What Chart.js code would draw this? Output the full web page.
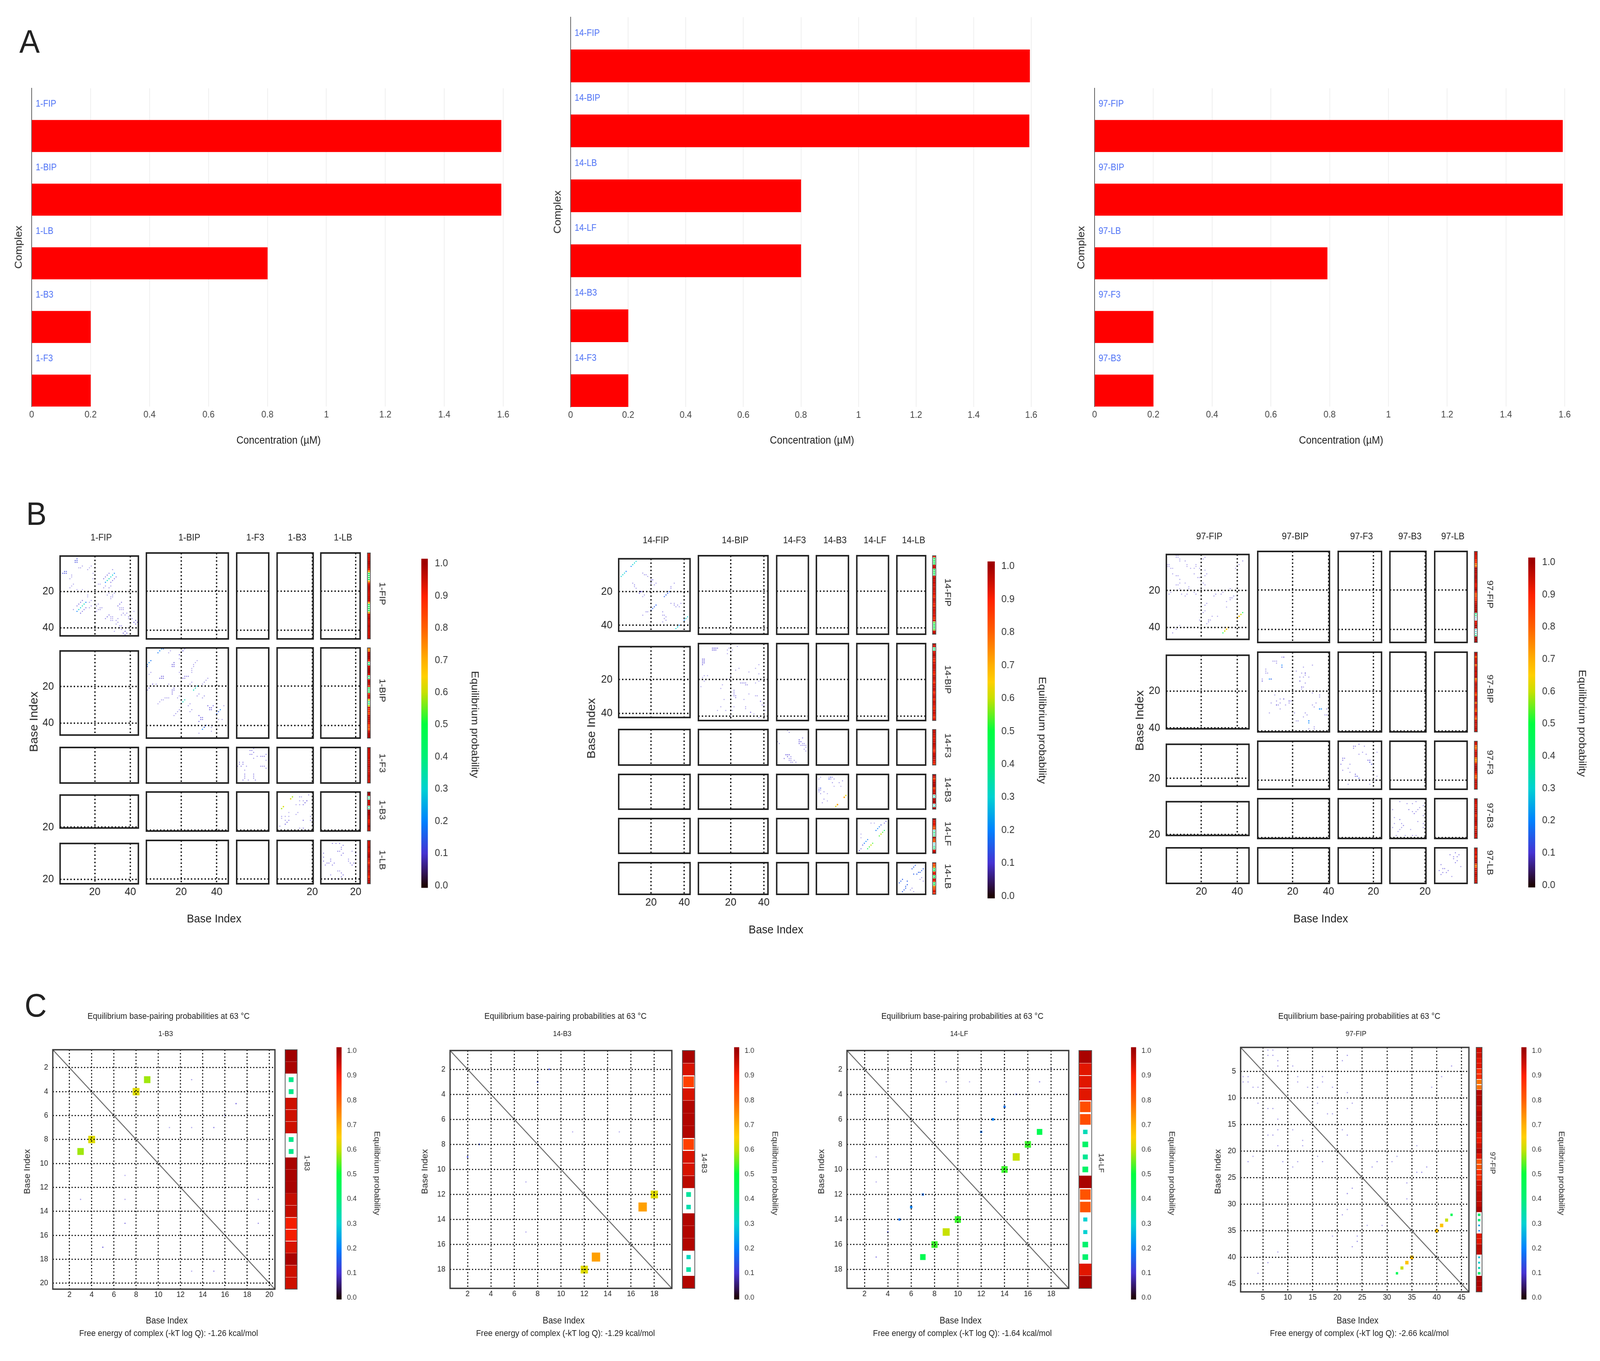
<!DOCTYPE html>
<html>
<head>
<meta charset="utf-8">
<title>Primer concentrations and base-pairing probabilities</title>
<script src="https://cdn.jsdelivr.net/npm/chart.js@4"></script>
<style>
html, body { margin: 0; background: #fff; overflow: hidden; }
#page { position: absolute; left: 0; top: 0; width: 4394px; height: 3485px; overflow: hidden; background: #fff; transform-origin: 0 0; }
#page canvas { position: absolute; filter: blur(0.6px); }
.txt { position: absolute; white-space: nowrap; font-family: "Liberation Sans", Arial, sans-serif; color: #222; transform: translate(-50%, -50%); filter: blur(0.6px); }
</style>
</head>
<body>
<div id="page"></div>
<script>
// panel A: concentrations
const conc_ticks = [0, 0.2, 0.4, 0.6, 0.8, 1, 1.2, 1.4, 1.6]
const conc_names_1 = ['1-FIP', '1-BIP', '1-LB', '1-B3', '1-F3']
const conc_values_1 = [1.593, 1.593, 0.8, 0.2, 0.2]
const conc_names_14 = ['14-FIP', '14-BIP', '14-LB', '14-LF', '14-B3', '14-F3']
const conc_values_14 = [1.595, 1.593, 0.8, 0.8, 0.2, 0.2]
const conc_names_97 = ['97-FIP', '97-BIP', '97-LB', '97-F3', '97-B3']
const conc_values_97 = [1.593, 1.593, 0.792, 0.2, 0.2]

// colour scale of the probability plots
const cbar_ticks = [0, 0.1, 0.2, 0.3, 0.4, 0.5, 0.6, 0.7, 0.8, 0.9, 1]
const cbar_range = [-0.007, 1.015]
const cmap_pos = [0, 0.04, 0.1, 0.2, 0.3, 0.4, 0.5, 0.6, 0.65, 0.7, 0.8, 0.9, 0.95, 1]
const cmap_rgb = [[30, 5, 5], [50, 20, 90], [70, 50, 210], [0, 130, 255], [0, 210, 210], [0, 240, 120], [0, 255, 64],
    [200, 225, 0], [255, 208, 0], [255, 176, 0], [255, 96, 0], [255, 32, 0], [205, 16, 0], [160, 0, 0]]

// base pairs [column, row, probability], upper triangle only, the plots are symmetric
const pairs_1_FIP = [[10,2,.12],[9,3,.12],[10,3,.12],[9,4,.12],[10,4,.12],[11,7,.04],[12,7,.04],[13,6,.04],[16,8,.04],[17,7,.04],[18,6,.04],
    [19,10,.04],[19,13,.04],[22,16,.04],[23,16,.04],[26,15,.2],[27,14,.33],[28,13,.33],[29,12,.3],[30,11,.3],[31,10,.2],
    [25,13,.08],[26,12,.08],[27,11,.08],[28,10,.08],[29,15,.08],[30,14,.08],[31,13,.08],[32,12,.08],[30,8,.05],[25,18,.05],[26,17,.05],
    [28,18,.05],[29,17,.05],[28,21,.05],[27,22,.05],[31,21,.05],[30,22,.05],[29,23,.05],[30,23,.05],[29,24,.05],[33,28,.08],[34,27,.08],[35,26,.08],
    [34,29,.04],[35,29,.04],[36,29,.04],[34,30,.04],[35,30,.04],[36,30,.04],[36,32,.05],[38,32,.05],[37,33,.05],[39,34,.05],[39,35,.05],
    [42,31,.04],[42,37,.1],[43,36,.1],[43,38,.1],[44,37,.1],[40,34,.05],[41,35,.05],[35,33,.05]]
const pairs_1_BIP = [[7,3,.18],[8,2,.2],[9,1,.2],[10,1,.15],[13,3,.04],[14,2,.04],[15,9,.1],[16,8,.1],[16,9,.1],[15,10,.1],[16,10,.1],
    [19,4,.04],[19,6,.04],[21,2,.04],[22,1,.04],[29,7,.04],[28,8,.04],[27,9,.04],[27,10,.04],[26,11,.04],[26,12,.04],[26,13,.04],[19,13,.04],
    [21,16,.08],[22,16,.08],[22,15,.08],[23,15,.08],[24,15,.08],[35,16,.05],[34,17,.05],[33,18,.05],[32,19,.05],[26,18,.05],[25,19,.05],
    [30,24,.05],[29,25,.05],[33,25,.05],[32,26,.05],[27,22,.33],[28,21,.33],[29,20,.3],[35,30,.1],[36,31,.1],[37,31,.1],[38,30,.1],[36,32,.1],[37,32,.1],
    [40,34,.15],[41,33,.15],[42,32,.2],[44,30,.04],[41,37,.04],[43,37,.04],[22,1,.04],[21,2,.04],[19,4,.04]]
const pairs_1_F3 = [[8,2,.07],[9,2,.07],[10,1,.07],[8,4,.07],[9,4,.07],[10,3,.07],[10,6,.05],[12,5,.05],[14,5,.07],[15,5,.07],[16,5,.07],
    [17,4,.07],[17,7,.05],[14,10,.07],[15,10,.07],[16,10,.07],[17,11,.07]]
const pairs_1_B3 = [[9,3,.58],[8,4,.62],[13,3,.05],[17,5,.1],[16,6,.1],[11,7,.03],[13,7,.04],[15,7,.08],[19,13,.04],[19,15,.06]]
const pairs_1_B3_faint = [[14,3,.04],[15,5,.05],[13,5,.04],[18,2,.05],[12,11,.04],[15,15,.04],[20,14,.03],[20,15,.03],[20,16,.03],[20,17,.03]]
const pairs_1_LB = [[7,2,.07],[9,2,.07],[11,2,.07],[13,3,.07],[12,4,.07],[12,5,.07],[10,6,.07],[11,6,.07],[13,7,.07],[12,8,.07],[18,6,.05],
    [20,3,.05],[20,7,.05],[20,10,.05],[16,10,.05],[16,11,.05],[17,12,.07],[18,13,.08],[19,12,.08]]
const pairs_14_FIP = [[11,2,.3],[10,3,.3],[9,4,.3],[8,5,.2],[15,9,.05],[17,10,.05],[16,10,.05],[18,11,.05],[20,13,.1],[21,13,.1],[20,14,.1],[23,15,.05],[22,16,.05],
    [15,20,.08],[14,20,.08],[34,15,.05],[32,17,.05],[36,20,.04],[28,23,.15],[29,22,.15],[30,21,.15],[31,20,.15],[34,27,.05],[35,29,.05],[38,27,.05],[37,29,.05],
    [32,18,.05],[32,27,.05],[34,28,.05],[36,28,.05],[42,35,.3],[41,36,.3],[40,37,.2]]
const pairs_14_BIP = [[9,3,.1],[10,3,.1],[11,3,.1],[12,3,.1],[9,4,.1],[10,4,.1],[11,4,.1],[18,4,.04],[19,3,.04],[18,6,.04],[21,4,.04],[24,2,.04],
    [37,12,.04],[35,14,.04],[31,16,.04],[25,14,.04],[23,15,.04],[20,18,.04],[26,22,.06],[28,22,.06],[29,22,.06],[30,23,.06],[37,21,.04],[35,22,.04],
    [40,20,.04],[37,17,.04],[38,32,.04],[40,34,.04],[31,28,.04],[36,29,.04],[29,35,.04],[32,38,.04],[34,39,.04],[37,41,.04],[27,22,.06],[29,23,.06]]
const pairs_14_F3 = [[7,1,.05],[8,2,.05],[14,6,.1],[14,7,.1],[14,8,.1],[15,7,.1],[16,5,.07],[17,8,.05],[18,10,.05],[18,12,.05],[17,11,.05],[16,8,.05],[15,9,.05],[16,9,.05],[17,9,.05],[18,9,.05]]
const pairs_14_B3 = [[9,2,.12],[8,3,.13],[11,7,.03],[15,7,.03],[18,12,.62],[17,13,.72]]
const pairs_14_B3_faint = [[8,2,.05],[10,2,.05],[9,3,.05],[10,5,.05],[14,5,.05],[16,4,.05],[11,3,.05],[3,2,.04]]
const pairs_14_LF = [[18,2,.1],[9,3,.03],[11,3,.03],[17,3,.08],[15,4,.12],[14,5,.18],[13,6,.2],[12,7,.18],[17,7,.47],[16,8,.53],[15,9,.6],[14,10,.53]]
const pairs_14_LB = [[12,2,.15],[11,3,.15],[10,4,.15],[17,4,.15],[16,5,.15],[15,6,.15],[14,6,.15],[13,7,.15],[11,7,.15],[16,9,.05],[17,11,.05],[15,10,.05]]
const pairs_97_FIP = [[6,1,.04],[7,1,.04],[6,2,.04],[7,2,.04],[8,3,.04],[8,4,.04],[11,4,.04],[12,6,.04],[12,7,.04],[14,8,.04],[16,8,.04],[16,11,.04],
    [17,6,.04],[17,7,.04],[18,13,.04],[19,13,.04],[19,8,.04],[21,3,.04],[22,2,.05],[22,9,.04],[22,12,.04],[23,11,.04],[21,16,.04],[22,17,.05],[28,22,.06],[27,23,.05],
    [32,21,.04],[31,22,.04],[34,26,.04],[34,29,.04],[36,19,.04],[36,24,.05],[37,24,.06],[38,23,.05],[36,25,.04],[39,8,.04],[41,6,.05],[43,4,.05],
    [43,32,.46],[42,33,.6],[41,34,.67],[40,35,.68]]
const pairs_97_BIP = [[5,9,.05],[6,11,.05],[3,15,.1],[7,14,.2],[8,14,.15],[10,5,.05],[11,5,.05],[14,3,.05],[25,11,.05],[27,11,.05],[26,13,.05],[31,7,.05],
    [24,15,.1],[25,18,.1],[29,13,.05],[27,12,.05],[35,23,.05],[33,26,.05],[32,28,.05],[35,29,.2],[36,29,.2],[39,29,.05],[39,32,.05],[29,35,.2],[31,21,.05],[31,27,.05],
    [35,22,.05],[38,32,.05],[26,18,.05],[25,19,.05],[27,16,.05],[24,13,.05],[22,10,.05],[26,8,.05],[27,11,.05]]
const pairs_97_F3 = [[9,3,.08],[10,3,.08],[12,2,.08],[9,4,.08],[14,6,.05],[12,7,.05],[15,3,.05],[16,7,.05],[17,10,.1],[18,11,.12],[19,12,.12],[22,6,.04],[22,18,.04],[21,20,.04],[18,10,.1],[20,15,.04]]
const pairs_97_B3 = [[6,2,.05],[10,3,.05],[15,2,.05],[19,4,.05],[11,6,.08],[14,8,.08],[19,9,.05],[19,13,.05],[19,15,.05],[13,3,.05],[16,6,.05],[17,5,.05],[13,7,.05],[15,7,.05],[16,12,.05]]
const pairs_97_LB = [[9,4,.07],[11,5,.07],[12,3,.07],[13,7,.07],[12,8,.07],[14,4,.07],[15,10,.05],[13,5,.07],[11,6,.07]]

// unpaired probability per base, drawn in the strip beside each plot
const strip_1_FIP = [.94,.94,.95,.95,.97,.97,.95,.94,.88,.7,.5,.5,.5,.5,.7,.88,.95,.97,.97,.95,.94,.94,.95,.95,.94,.7,.5,.5,.5,.5,.7,.94,.95,.97,.95,.94,.95,.97,.95,.95,.94,.94,.95,.95]
const strip_1_BIP = [.75,.75,.97,.97,.98,.97,.88,.45,.45,.94,.97,.98,.98,.94,.45,.45,.94,.97,.97,.88,.5,.45,.5,.88,.95,.94,.6,.45,.45,.6,.92,.88,.88,.82,.94,.95,.95,.94,.92,.82,.85,.8,.94,.97,.98,.98]
const strip_1_F3 = [.97,.95,.95,.94,.94,.95,.95,.94,.95,.97,.95,.95,.94,.95,.97,.95,.95,.94]
const strip_1_B3 = [1,.99,.38,.38,.95,.95,.95,.38,.38,.99,.99,.99,.96,.96,.91,.91,.94,.99,.95,.95]
const strip_1_LB = [.95,.94,.95,.97,.94,.92,.95,.97,.98,.94,.92,.88,.95,.97,.95,.97,.95,.94,.88,.95,.97,.97]
const strip_14_FIP = [.88,.5,.5,.5,.5,.94,.95,.5,.5,.5,.45,.94,.97,.95,.97,.94,.95,.94,.95,.94,.94,.92,.88,.94,.95,.94,.92,.88,.95,.94,.94,.95,.94,.92,.88,.94,.55,.5,.5,.5,.55,.94,.97]
const strip_14_BIP = [.97,.94,.45,.45,.94,.95,.97,.94,.92,.88,.95,.95,.94,.95,.95,.92,.88,.94,.95,.94,.92,.88,.94,.94,.95,.95,.88,.92,.94,.94,.88,.95,.95,.94,.92,.88,.95,.95,.94,.92,.88,.94]
const strip_14_F3 = [.95,.97,.95,.94,.92,.94,.95,.97,.95,.94,.92,.88,.94,.95,.97,.95,.94,.92,.88]
const strip_14_B3 = [.99,.94,.85,.94,.98,.98,.98,.85,.94,.94,.97,.36,.34,.98,.98,.98,.32,.35,.98]
const strip_14_LF = [.99,.93,.93,.93,.83,.83,.33,.43,.37,.43,.99,.82,.82,.3,.3,.42,.42,.93,.99]
const strip_14_LB = [.88,.82,.75,.5,.5,.88,.94,.5,.5,.94,.88,.5,.5,.75,.82,.88,.94,.88]
const strip_97_FIP = [.95,.95,.93,.93,.88,.88,.78,.78,.98,.98,.98,.96,.98,.98,.96,.96,.92,.92,.95,.98,.93,.82,.82,.88,.88,.95,.95,.97,.97,.97,.99,.42,.4,.25,.2,.93,.93,.97,.97,.28,.3,.33,.42,.99,.99,.98]
const strip_97_BIP = [.97,.95,.82,.94,.95,.97,.8,.94,.95,.97,.94,.95,.97,.78,.88,.95,.97,.95,.94,.95,.88,.82,.94,.95,.97,.8,.95,.94,.88,.8,.94,.95,.88,.8,.95,.97,.94,.95,.97,.95]
const strip_97_F3 = [.95,.94,.8,.78,.92,.95,.95,.94,.78,.75,.8,.94,.97,.98,.97,.94,.88,.8,.82,.95,.97,.95,.94,.95]
const strip_97_B3 = [.97,.95,.94,.92,.94,.95,.97,.95,.88,.94,.95,.97,.95,.94,.88,.94,.95,.97,.94,.95]
const strip_97_LB = [.95,.94,.92,.95,.88,.94,.95,.97,.82,.78,.92,.95,.94,.97,.95,.94,.95,.95]

const even_20 = [2, 4, 6, 8, 10, 12, 14, 16, 18, 20]
const even_19 = [2, 4, 6, 8, 10, 12, 14, 16, 18]
const fives_46 = [5, 10, 15, 20, 25, 30, 35, 40, 45]

// panel B tables
const set_1 = {
    names: ['1-FIP', '1-BIP', '1-F3', '1-B3', '1-LB'],
    lens: [44, 46, 18, 20, 22],
    pairs: [pairs_1_FIP, pairs_1_BIP, pairs_1_F3, pairs_1_B3.concat(pairs_1_B3_faint), pairs_1_LB],
    strips: [strip_1_FIP, strip_1_BIP, strip_1_F3, strip_1_B3, strip_1_LB]
}
const set_14 = {
    names: ['14-FIP', '14-BIP', '14-F3', '14-B3', '14-LF', '14-LB'],
    lens: [43, 42, 19, 19, 19, 18],
    pairs: [pairs_14_FIP, pairs_14_BIP, pairs_14_F3, pairs_14_B3.concat(pairs_14_B3_faint), pairs_14_LF, pairs_14_LB],
    strips: [strip_14_FIP, strip_14_BIP, strip_14_F3, strip_14_B3, strip_14_LF, strip_14_LB]
}
const set_97 = {
    names: ['97-FIP', '97-BIP', '97-F3', '97-B3', '97-LB'],
    lens: [46, 40, 24, 20, 18],
    pairs: [pairs_97_FIP, pairs_97_BIP, pairs_97_F3, pairs_97_B3, pairs_97_LB],
    strips: [strip_97_FIP, strip_97_BIP, strip_97_F3, strip_97_B3, strip_97_LB]
}

Chart.defaults.font.family = '"Liberation Sans", Arial, sans-serif'
Chart.defaults.animation = false
Chart.defaults.responsive = false
Chart.defaults.devicePixelRatio = 1

const page = document.getElementById('page')
// the layout is in 4394x3485 figure pixels, fit that to whatever window we really got
page.style.transform = 'scale(' + (window.innerWidth / 4394) + ',' + (window.innerHeight / 3485) + ')'

function text(str, cx, cy, size, rot, color) {
    const d = document.createElement('div')
    d.className = 'txt'
    d.textContent = str
    d.style.left = cx + 'px'
    d.style.top = cy + 'px'
    d.style.fontSize = size + 'px'
    if (rot) d.style.transform = 'translate(-50%, -50%) rotate(' + rot + 'deg)'
    if (color) d.style.color = color
    page.appendChild(d)
}

function probColor(p, alpha) {
    let i = 1
    while (i < cmap_pos.length - 1 && cmap_pos[i] < p) i++
    const f = Math.min(1, Math.max(0, (p - cmap_pos[i - 1]) / (cmap_pos[i] - cmap_pos[i - 1])))
    const c = cmap_rgb[i - 1].map((v, k) => Math.round(v + (cmap_rgb[i][k] - v) * f))
    return 'rgba(' + c.join(',') + ',' + (alpha === undefined ? 1 : alpha) + ')'
}

// the tiny marks read as pale lilac in the figure, not as the dark end of the scale
function markColor(p) {
    return probColor(Math.max(p, 0.1), Math.min(1, 0.25 + p * 5))
}

const frame = {
    id: 'frame',
    afterDraw(chart, args, o) {
        const a = chart.chartArea, c = chart.ctx
        c.save()
        c.strokeStyle = o.color
        c.lineWidth = o.width
        c.strokeRect(a.left, a.top, a.right - a.left, a.bottom - a.top)
        c.restore()
    }
}

// canvas sized so the plot area lands on the wanted pixels
function place(r, m, config) {
    const pad = 26
    const cv = document.createElement('canvas')
    const w = r.w + m.l + m.r + pad * 2, h = r.h + m.t + m.b + pad * 2
    cv.width = w
    cv.height = h
    cv.style.left = (r.x - m.l - pad) + 'px'
    cv.style.top = (r.y - m.t - pad) + 'px'
    cv.style.width = w + 'px'
    cv.style.height = h + 'px'
    page.appendChild(cv)
    config.options.layout = { autoPadding: false, padding: pad }
    return new Chart(cv, config)
}

const noPlugins = { legend: { display: false }, tooltip: { enabled: false } }

function barChart(names, values, box) {
    const labels = names.flatMap(n => [n, ''])
    const data = values.flatMap(v => [null, v])
    place(box, { l: 0, r: 0, t: 0, b: 50 }, {
        type: 'bar',
        data: { labels: labels, datasets: [{ data: data, backgroundColor: '#ff0000', barPercentage: 1, categoryPercentage: 1 }] },
        options: {
            indexAxis: 'y',
            plugins: noPlugins,
            scales: {
                x: {
                    min: 0, max: 1.6,
                    afterBuildTicks: a => { a.ticks = conc_ticks.map(v => ({ value: v })) },
                    afterFit: s => { s.height = 50 },
                    grid: { color: '#eeeeee', lineWidth: 2, drawTicks: false },
                    border: { display: false },
                    ticks: { autoSkip: false, maxRotation: 0, padding: 7, color: '#444', font: { size: 24 }, callback: v => v }
                },
                y: {
                    afterFit: s => { s.width = 0 },
                    grid: { display: false, drawTicks: false },
                    border: { color: '#555', width: 2 },
                    ticks: { mirror: true, autoSkip: false, padding: 11, color: '#4a6ff5', font: { size: 23 } }
                }
            }
        }
    })
}

function pairChart(box, n, pairs, o) {
    const cell = Math.min(box.w, box.h) / n
    const dots = pairs.flatMap(([x, y, p]) => [{ x: x, y: y, p: p }, { x: y, y: x, p: p }])
    const datasets = [{
        data: dots,
        pointStyle: 'rect',
        pointBorderWidth: 0,
        pointRadius: c => c.raw ? Math.max(o.minDot, c.raw.p * cell) / Math.SQRT2 : 2,
        pointBackgroundColor: c => c.raw ? markColor(c.raw.p) : '#000'
    }]
    datasets.push({
        data: [{ x: 0.5, y: 0.5 }, { x: n + 0.5, y: n + 0.5 }],
        showLine: true, borderColor: '#666', borderWidth: 2.5, pointRadius: 0
    })
    const axis = () => ({
        min: 0.5, max: n + 0.5,
        afterBuildTicks: a => { a.ticks = o.ticks.map(v => ({ value: v })) },
        grid: { color: '#000', lineWidth: 3, drawTicks: false, z: 1 },
        border: { display: false, dash: [3, 5.6] },
        ticks: { autoSkip: false, maxRotation: 0, color: '#222', font: { size: 20 }, callback: v => v }
    })
    const xs = axis()
    xs.afterFit = s => { s.height = 34 }
    xs.ticks.padding = 2
    const ys = axis()
    ys.reverse = true
    ys.afterFit = s => { s.width = 50 }
    ys.ticks.padding = 13
    place(box, { l: 50, r: 0, t: 0, b: 34 }, {
        type: 'scatter',
        data: { datasets: datasets },
        options: {
            plugins: Object.assign({ frame: { color: '#3a3a3a', width: 3.5 } }, noPlugins),
            scales: { x: xs, y: ys }
        },
        plugins: [frame]
    })
}

function stripChart(box, values) {
    const cellW = box.w, cellH = box.h / values.length
    place(box, { l: 0, r: 0, t: 0, b: 0 }, {
        type: 'bar',
        data: {
            labels: values.map((v, i) => i + 1),
            datasets: [{
                data: values.map(() => 1),
                barPercentage: 1, categoryPercentage: 1,
                borderSkipped: false,
                borderColor: '#fff',
                borderWidth: c => {
                    const p = c.dataIndex === undefined ? 1 : values[c.dataIndex]
                    const dx = cellW * (1 - p) / 2, dy = cellH * (1 - p) / 2
                    return { left: dx, right: dx, top: dy, bottom: dy }
                },
                backgroundColor: c => probColor(c.dataIndex === undefined ? 1 : values[c.dataIndex])
            }]
        },
        options: {
            indexAxis: 'y',
            plugins: Object.assign({ frame: { color: '#555', width: 2 } }, noPlugins),
            scales: {
                x: { display: false, min: 0, max: 1 },
                y: { display: false }
            }
        },
        plugins: [frame]
    })
}

function colorBar(box, size, padding) {
    place(box, { l: 0, r: 70, t: 0, b: 0 }, {
        type: 'bar',
        data: {
            labels: [''],
            datasets: [{
                data: [cbar_range],
                barPercentage: 1, categoryPercentage: 1,
                backgroundColor: c => {
                    const a = c.chart.chartArea
                    if (!a) return '#000'
                    const y = c.chart.scales.y
                    const g = c.chart.ctx.createLinearGradient(0, y.getPixelForValue(0), 0, y.getPixelForValue(1))
                    cmap_pos.forEach(v => g.addColorStop(v, probColor(v)))
                    return g
                }
            }]
        },
        options: {
            plugins: noPlugins,
            scales: {
                x: { display: false },
                y: {
                    position: 'right',
                    min: cbar_range[0], max: cbar_range[1],
                    afterBuildTicks: a => { a.ticks = cbar_ticks.map(v => ({ value: v })) },
                    afterFit: s => { s.width = 70 },
                    grid: { display: false, drawTicks: false },
                    border: { display: false },
                    ticks: { autoSkip: false, padding: padding, color: '#333', font: { size: size }, callback: v => v.toFixed(1) }
                }
            }
        }
    })
}

// panel B: one block of plots
function matrix(set, L) {
    const multiples = n => [20, 40].filter(v => v <= n)
    set.names.forEach((rowName, r) => {
        const [top, bottom] = L.rows[r]
        const rn = set.lens[r]
        set.names.forEach((colName, c) => {
            const [left, right] = L.cols[c]
            const cn = set.lens[c]
            const box = { x: left, y: top, w: right - left, h: bottom - top }
            matrixCell(box, cn, rn, r === c ? set.pairs[r] : [], multiples(cn), multiples(rn), c === 0, r === set.names.length - 1)
        })
        stripChart({ x: L.strip[0], y: top, w: L.strip[1] - L.strip[0], h: bottom - top }, set.strips[r])
        text(rowName, L.rowTitleX, L.rowTitleY[r], 24, 90)
    })
    set.names.forEach((n, c) => text(n, L.colTitleX[c], L.colTitleY, 24))
    colorBar({ x: L.bar[0], y: L.bar[2], w: L.bar[1] - L.bar[0], h: L.bar[3] - L.bar[2] }, 26, L.barPad)
    text('Equilibrium probability', L.eq[0], L.eq[1], 28, 90)
    text('Base Index', L.yTitle[0], L.yTitle[1], 31, -90)
    text('Base Index', L.xTitle[0], L.xTitle[1], 30)
}

function matrixCell(box, cn, rn, pairs, xTicks, yTicks, first, last) {
    const dots = pairs.flatMap(([x, y, p]) => [{ x: x, y: y, p: p }, { x: y, y: x, p: p }])
    const cell = Math.min(box.w / cn, box.h / rn)
    const ml = first ? 60 : 0, mb = last ? 44 : 0
    const scale = (n, ticks, show, pad) => ({
        min: 0.5, max: n + 0.5,
        afterBuildTicks: a => { a.ticks = ticks.map(v => ({ value: v })) },
        grid: { color: '#000', lineWidth: 3.5, drawTicks: false, z: 1 },
        border: { display: false, dash: [3.5, 5.9] },
        ticks: { display: show, autoSkip: false, maxRotation: 0, padding: pad, color: '#222', font: { size: 28 }, callback: v => v }
    })
    const xs = scale(cn, xTicks, last, 4)
    xs.afterFit = s => { s.height = mb }
    const ys = scale(rn, yTicks, first, 17)
    ys.reverse = true
    ys.afterFit = s => { s.width = ml }
    place(box, { l: ml, r: 0, t: 0, b: mb }, {
        type: 'scatter',
        data: {
            datasets: [{
                data: dots,
                pointStyle: 'rect',
                pointBorderWidth: 0,
                pointRadius: c => c.raw ? Math.max(2.6, c.raw.p * cell * 1.1) / Math.SQRT2 : 2,
                pointBackgroundColor: c => c.raw ? markColor(c.raw.p) : '#000'
            }]
        },
        options: {
            plugins: Object.assign({ frame: { color: '#222', width: 4 } }, noPlugins),
            scales: { x: xs, y: ys }
        },
        plugins: [frame]
    })
}

// panel C: one large plot
function single(name, energy, n, ticks, pairs, strip, L) {
    const box = { x: L.x0, y: L.y0, w: L.x1 - L.x0, h: L.y1 - L.y0 }
    pairChart(box, n, pairs, { minDot: 3, ticks: ticks })
    stripChart({ x: L.s0, y: L.y0, w: L.s1 - L.s0, h: L.y1 - L.y0 }, strip)
    colorBar({ x: L.b0, y: 2681, w: L.b1 - L.b0, h: 647 }, 19, 15)
    text('Equilibrium base-pairing probabilities at 63 °C', L.title, 2602, 22)
    text(name, L.sub, 2647, 19)
    text('Base Index', L.xl, 3381, 23)
    text('Free energy of complex (-kT log Q): ' + energy + ' kcal/mol', L.title, 3414, 22)
    text('Base Index', L.yl, 3000, 23, -90)
    text(name, L.sl, 2978, 19, 90)
    text('Equilibrium probability', L.eq, 3004, 22, 90)
}

// panel A
barChart(conc_names_1, conc_values_1, { x: 87, y: 226, w: 1295, h: 815 })
barChart(conc_names_14, conc_values_14, { x: 1567, y: 44, w: 1265, h: 998 })
barChart(conc_names_97, conc_values_97, { x: 3006, y: 226, w: 1291, h: 815 })
text('Complex', 51, 633, 28, -90)
text('Complex', 1531, 543, 28, -90)
text('Complex', 2969, 634, 28, -90)
text('Concentration (µM)', 765, 1127, 27)
text('Concentration (µM)', 2230, 1127, 27)
text('Concentration (µM)', 3683, 1127, 27)

// panel B
matrix(set_1, {
    cols: [[165, 380], [402, 627], [650, 738], [761, 860], [881, 989]],
    rows: [[1416, 1636], [1659, 1890], [1914, 2005], [2028, 2128], [2152, 2263]],
    strip: [1009, 1017],
    colTitleX: [278, 520, 701, 816, 942], colTitleY: 1376,
    rowTitleX: 1050, rowTitleY: [1520, 1768, 1954, 2074, 2202],
    bar: [1157, 1175, 1422, 2282], barPad: 19, eq: [1304, 1855],
    yTitle: [93, 1848], xTitle: [588, 2352]
})
matrix(set_14, {
    cols: [[1699, 1895], [1918, 2109], [2133, 2220], [2242, 2330], [2353, 2440], [2463, 2542]],
    rows: [[1423, 1624], [1648, 1845], [1868, 1959], [1983, 2072], [2096, 2185], [2209, 2290]],
    strip: [2561, 2570],
    colTitleX: [1801, 2019, 2182, 2293, 2403, 2509], colTitleY: 1383,
    rowTitleX: 2603, rowTitleY: [1517, 1740, 1909, 2022, 2135, 2244],
    bar: [2712, 2732, 1430, 2308], barPad: 18, eq: [2862, 1870],
    yTitle: [1624, 1865], xTitle: [2131, 2380]
})
matrix(set_97, {
    cols: [[3203, 3430], [3454, 3651], [3675, 3794], [3817, 3916], [3940, 4029]],
    rows: [[1412, 1645], [1670, 1874], [1898, 2021], [2045, 2147], [2171, 2262]],
    strip: [4049, 4057],
    colTitleX: [3321, 3557, 3739, 3872, 3990], colTitleY: 1373,
    rowTitleX: 4092, rowTitleY: [1522, 1764, 1952, 2088, 2209],
    bar: [4197, 4216, 1419, 2281], barPad: 19, eq: [4345, 1852],
    yTitle: [3130, 1845], xTitle: [3627, 2352]
})

// panel C
single('1-B3', '-1.26', 20, even_20, pairs_1_B3, strip_1_B3, {
    x0: 145, x1: 755, y0: 2688, y1: 3301, s0: 783, s1: 816, b0: 924, b1: 938,
    title: 463, sub: 455, xl: 458, yl: 75, sl: 843, eq: 1036
})
single('14-B3', '-1.29', 19, even_19, pairs_14_B3, strip_14_B3, {
    x0: 1236, x1: 1845, y0: 2690, y1: 3299, s0: 1874, s1: 1908, b0: 2016, b1: 2030,
    title: 1553, sub: 1544, xl: 1548, yl: 1167, sl: 1934, eq: 2129
})
single('14-LF', '-1.64', 19, even_19, pairs_14_LF, strip_14_LF, {
    x0: 2326, x1: 2935, y0: 2690, y1: 3299, s0: 2963, s1: 2998, b0: 3106, b1: 3120,
    title: 2643, sub: 2634, xl: 2638, yl: 2256, sl: 3024, eq: 3219
})
single('97-FIP', '-2.66', 46, fives_46, pairs_97_FIP, strip_97_FIP, {
    x0: 3407, x1: 4034, y0: 2682, y1: 3308, s0: 4054, s1: 4070, b0: 4178, b1: 4192,
    title: 3733, sub: 3724, xl: 3728, yl: 3345, sl: 4099, eq: 4289
})

text('A', 81, 106, 84)
text('B', 100, 1315, 84)
text('C', 98, 2574, 84)
</script>
</body>
</html>
